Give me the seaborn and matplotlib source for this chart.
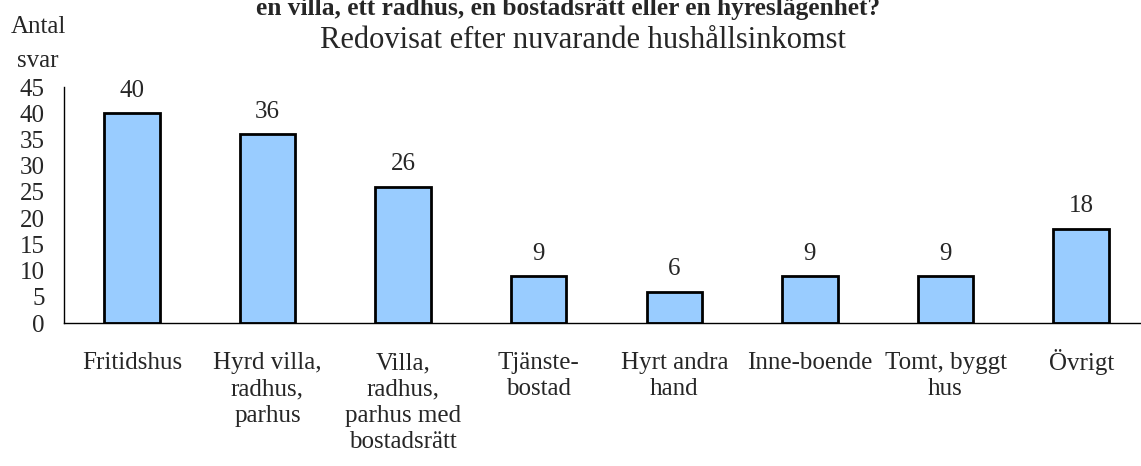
import matplotlib
matplotlib.use("Agg")
import matplotlib.pyplot as plt
import matplotlib.transforms as mtransforms
import seaborn as sns
import pandas as pd

categories = [
    "Fritidshus",
    "Hyrd villa,\nradhus,\nparhus",
    "Villa,\nradhus,\nparhus med\nbostadsrätt",
    "Tjänste-\nbostad",
    "Hyrt andra\nhand",
    "Inne-boende",
    "Tomt, byggt\nhus",
    "Övrigt",
]
answers = [40, 36, 26, 9, 6, 9, 9, 18]
y_ticks = [0, 5, 10, 15, 20, 25, 30, 35, 40, 45]

title = "en villa, ett radhus, en bostadsrätt eller en hyreslägenhet?"
subtitle = "Redovisat efter nuvarande hushållsinkomst"

sns.set_theme(style="white")
plt.rcParams["font.family"] = ["Liberation Serif", "DejaVu Serif"]

df = pd.DataFrame({"kategori": categories, "antal": answers})

W, H = 1141, 466
fig = plt.figure(figsize=(W / 100, H / 100), dpi=100)
ax = fig.add_axes([64 / W, 1 - 323 / H, 1085 / W, (323 - 87) / H])

sns.barplot(data=df, x="kategori", y="antal", color="#99ccff", saturation=1,
            edgecolor="black", linewidth=2, width=0.41, ax=ax)

# value labels above bars
for i, v in enumerate(answers):
    ax.text(i, v + 3.1, str(v), ha="center", va="baseline", fontsize=18)

ax.set_ylim(0, 45)
ax.set_xlim(-0.5, len(categories) - 0.5)
ax.set_yticks(y_ticks)
ax.set_yticklabels([str(t) for t in y_ticks], fontsize=18)
ax.set_xticks([i + 0.5 for i in range(-1, len(categories))], minor=True)
ax.set_xticks(range(len(categories)))
ax.set_xticklabels(categories, fontsize=18, linespacing=1.25)
ax.tick_params(axis="x", which="major", length=0, pad=21)
ax.tick_params(axis="x", which="minor", length=7, width=1, direction="out", color="black")
ax.tick_params(axis="y", length=6, width=1, direction="out", color="black", pad=8)
ax.set_xlabel("")
ax.set_ylabel("")

# the umlaut pushes "Övrigt" down; lift it so all first lines share a baseline
for lbl in ax.get_xticklabels():
    if lbl.get_text().startswith("Ö"):
        lbl.set_transform(lbl.get_transform() +
                          mtransforms.ScaledTranslation(0, 3.5 / 100, fig.dpi_scale_trans))

for s in ["top", "right"]:
    ax.spines[s].set_visible(False)
for s in ["left", "bottom"]:
    ax.spines[s].set_color("black")
    ax.spines[s].set_linewidth(1)

fig.text(568 / W, 1 - 9 / H, title, ha="center", va="center",
         fontsize=18.3, fontweight="bold")
fig.text(583 / W, 1 - 41 / H, subtitle, ha="center", va="center", fontsize=22)
fig.text(38 / W, 1 - 44 / H, "Antal\nsvar", ha="center", va="center",
         fontsize=18, linespacing=1.68)

fig.savefig("out.png", dpi=100)
